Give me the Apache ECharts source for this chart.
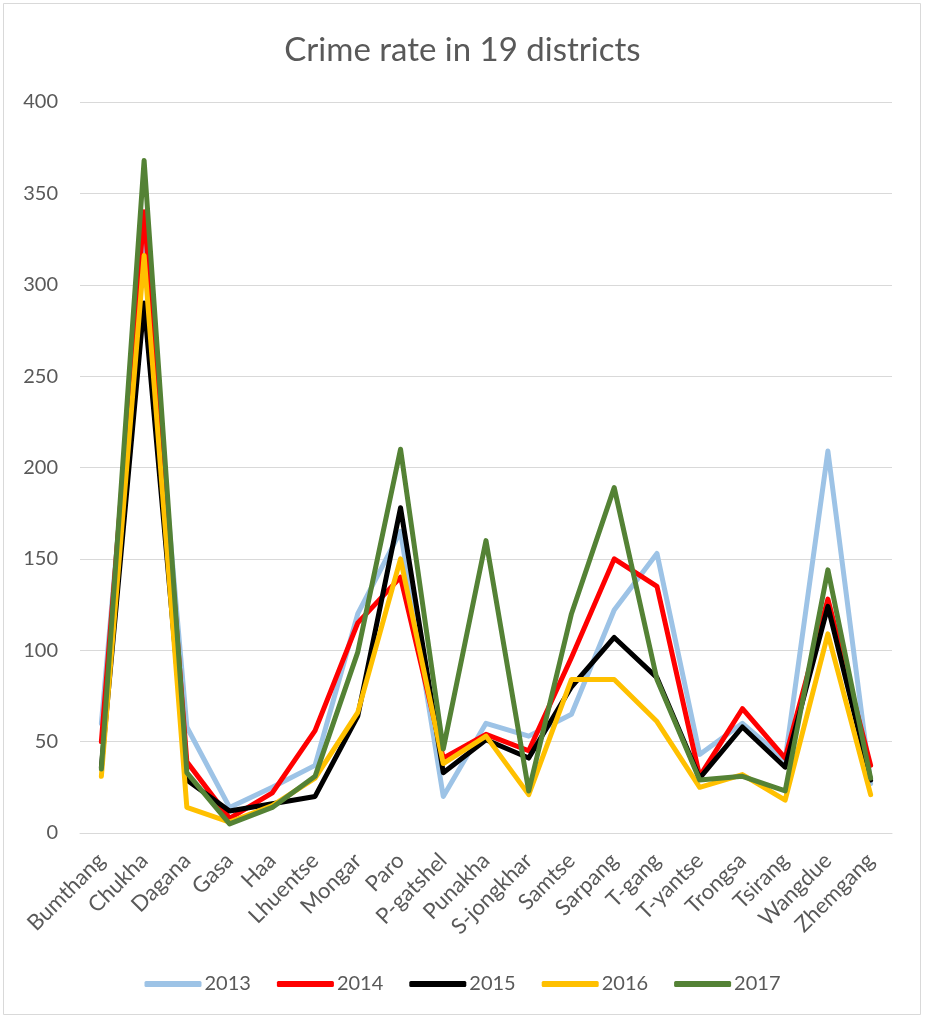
<!DOCTYPE html>
<html>
<head>
<meta charset="utf-8">
<script src="https://cdn.jsdelivr.net/npm/echarts@6/dist/echarts.min.js"></script>
<style>
html,body{margin:0;padding:0;background:#fff;}
#chart{width:925px;height:1018px;}
</style>
</head>
<body>
<div id="chart"></div>
<script>
const categories = ["Bumthang","Chukha","Dagana","Gasa","Haa","Lhuentse","Mongar","Paro","P-gatshel","Punakha","S-jongkhar","Samtse","Sarpang","T-gang","T-yantse","Trongsa","Tsirang","Wangdue","Zhemgang"];
const s2013 = [60, 325, 58, 14, 25, 37, 120, 165, 20, 60, 53, 65, 122, 153, 43, 60, 40, 209, 27];
const s2014 = [50, 340, 39, 8, 22, 56, 115, 140, 41, 54, 45, 96, 150, 135, 31, 68, 41, 128, 37];
const s2015 = [36, 290, 29, 12, 16, 20, 64, 178, 33, 51, 41, 80, 107, 85, 30, 58, 36, 124, 29];
const s2016 = [31, 316, 14, 6, 15, 30, 66, 150, 38, 53, 21, 84, 84, 61, 25, 32, 18, 109, 21];
const s2017 = [35, 368, 33, 5, 14, 31, 99, 210, 46, 160, 23, 120, 189, 84, 29, 31, 23, 144, 30];
const seriesNames = ["2013","2014","2015","2016","2017"];
const seriesColors = ["#9DC3E6","#FF0000","#000000","#FFC000","#548235"];
const seriesData = [s2013, s2014, s2015, s2016, s2017];

const FONT = "Lato";
const chart = echarts.init(document.getElementById('chart'));
chart.setOption({
  animation: false,
  backgroundColor: '#ffffff',
  title: {
    text: 'Crime rate in 19 districts',
    left: 'center',
    top: 29,
    textStyle: {fontFamily: FONT, fontSize: 33, fontWeight: 'normal', color: '#595959'}
  },
  graphic: [{
    type: 'rect', silent: true,
    shape: {x: 3.5, y: 3.5, width: 917, height: 1011},
    style: {fill: 'none', stroke: '#d9d9d9', lineWidth: 1}
  }],
  legend: {
    top: 969,
    left: 'center',
    icon: 'roundRect',
    itemWidth: 57,
    itemHeight: 6,
    itemGap: 26,
    textStyle: {fontFamily: FONT, fontSize: 20, color: '#595959', padding: [0,0,0,-2]},
    data: seriesNames
  },
  grid: {left: 80, right: 33, top: 102, bottom: 185, containLabel: false},
  xAxis: {
    type: 'category',
    data: categories,
    boundaryGap: true,
    axisLine: {lineStyle: {color: '#d9d9d9', width: 1}},
    axisTick: {show: false},
    axisLabel: {rotate: 45, fontFamily: FONT, fontSize: 22, color: '#595959', margin: 24, interval: 0}
  },
  yAxis: {
    type: 'value',
    min: 0, max: 400, interval: 50,
    axisLine: {show: false},
    axisTick: {show: false},
    splitLine: {lineStyle: {color: '#d9d9d9', width: 1}},
    axisLabel: {fontFamily: FONT, fontSize: 20, color: '#595959', margin: 22}
  },
  series: seriesNames.map((n, i) => ({
    name: n,
    type: 'line',
    data: seriesData[i],
    symbol: 'none',
    color: seriesColors[i],
    lineStyle: {color: seriesColors[i], width: 5, join: 'round', cap: 'round'}
  }))
});
</script>
</body>
</html>
